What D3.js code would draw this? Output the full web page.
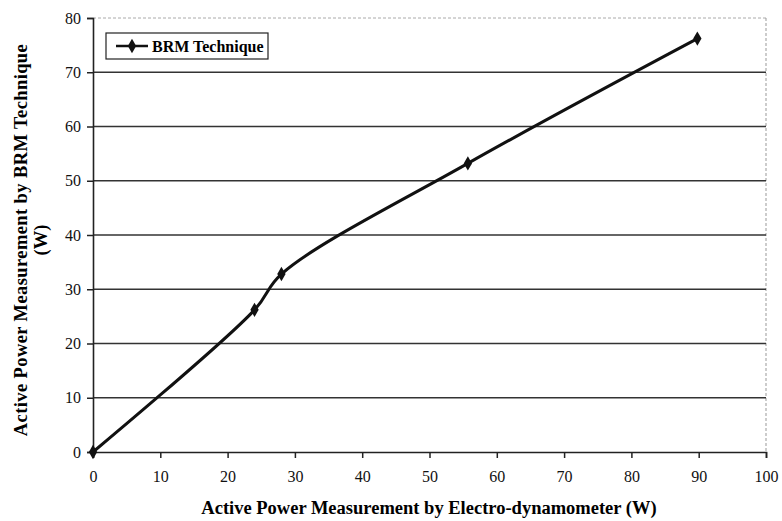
<!DOCTYPE html>
<html><head><meta charset="utf-8">
<script src="https://cdn.jsdelivr.net/npm/d3@7"></script>
<style>body{margin:0;background:#fff}</style>
</head><body><svg id="c" width="782" height="521"></svg>
<script>
const xValues = [0, 24, 28, 55.7, 89.8];
const yValues = [0, 26.2, 32.8, 53.2, 76.2];
const xTicks = [0,10,20,30,40,50,60,70,80,90,100];
const yTicks = [0,10,20,30,40,50,60,70,80];
const seriesName = "BRM Technique";
const xTitle = "Active Power Measurement by Electro-dynamometer (W)";
const yTitle1 = "Active Power Measurement by BRM Technique";
const yTitle2 = "(W)";
const FONT = '"Liberation Serif","Times New Roman",serif';

const svg = d3.select("#c");
const L=93,R=766,T=18,B=452;
const x = d3.scaleLinear().domain([0,100]).range([L,R]);
const y = d3.scaleLinear().domain([0,80]).range([B,T]);

svg.append("line").attr("x1",L).attr("x2",R).attr("y1",T).attr("y2",T).attr("stroke","#aaa").attr("stroke-dasharray","3,2");
svg.append("line").attr("x1",R).attr("x2",R).attr("y1",T).attr("y2",B).attr("stroke","#999").attr("stroke-dasharray","3,2");

svg.append("g").selectAll("line").data(yTicks.filter(d=>d>0&&d<80)).join("line")
 .attr("x1",L).attr("x2",R).attr("y1",d=>y(d)).attr("y2",d=>y(d)).attr("stroke","#333").attr("stroke-width",1.6);

const xa = svg.append("g").attr("transform",`translate(0,${B})`)
 .call(d3.axisBottom(x).tickValues(xTicks).tickSize(6).tickPadding(13));
const ya = svg.append("g").attr("transform",`translate(${L},0)`)
 .call(d3.axisLeft(y).tickValues(yTicks).tickSize(6).tickPadding(6));
[xa,ya].forEach(a=>{a.select(".domain").attr("stroke","#222").attr("stroke-width",1.6);
 a.selectAll(".tick line").attr("stroke","#222").attr("stroke-width",1.5);
 a.selectAll("text").attr("font-size",16).attr("fill","#111").style("font-family",FONT);});

const pts = xValues.map((v,i)=>[v,yValues[i]]);
svg.append("path").datum(pts).attr("fill","none").attr("stroke","#111").attr("stroke-width",3)
 .attr("d",d3.line().x(d=>x(d[0])).y(d=>y(d[1])).curve(d3.curveCatmullRom.alpha(0.5)));
const diamond = d3.symbol().type(d3.symbolDiamond).size(60);
svg.append("g").selectAll("path").data(pts).join("path").attr("d",diamond)
 .attr("transform",d=>`translate(${x(d[0])},${y(d[1])})`).attr("fill","#111");

svg.append("rect").attr("x",106).attr("y",33).attr("width",162).attr("height",26).attr("fill","#fff").attr("stroke","#222").attr("stroke-width",1.2);
svg.append("line").attr("x1",116).attr("x2",148).attr("y1",46).attr("y2",46).attr("stroke","#111").attr("stroke-width",2.5);
svg.append("path").attr("d",diamond).attr("transform","translate(132,46)").attr("fill","#111");
svg.append("text").attr("x",152).attr("y",52).attr("font-size",16).attr("font-weight","bold").style("font-family",FONT).text(seriesName);

svg.append("text").attr("x",429).attr("y",514).attr("text-anchor","middle").attr("font-size",18.5).attr("font-weight","bold").style("font-family",FONT).text(xTitle);
svg.append("text").attr("transform","translate(27,240) rotate(-90)").attr("text-anchor","middle").attr("font-size",18.5).attr("font-weight","bold").attr("letter-spacing",0.4).style("font-family",FONT).text(yTitle1);
svg.append("text").attr("transform","translate(47,240) rotate(-90)").attr("text-anchor","middle").attr("font-size",18.5).attr("font-weight","bold").style("font-family",FONT).text(yTitle2);
</script></body></html>
